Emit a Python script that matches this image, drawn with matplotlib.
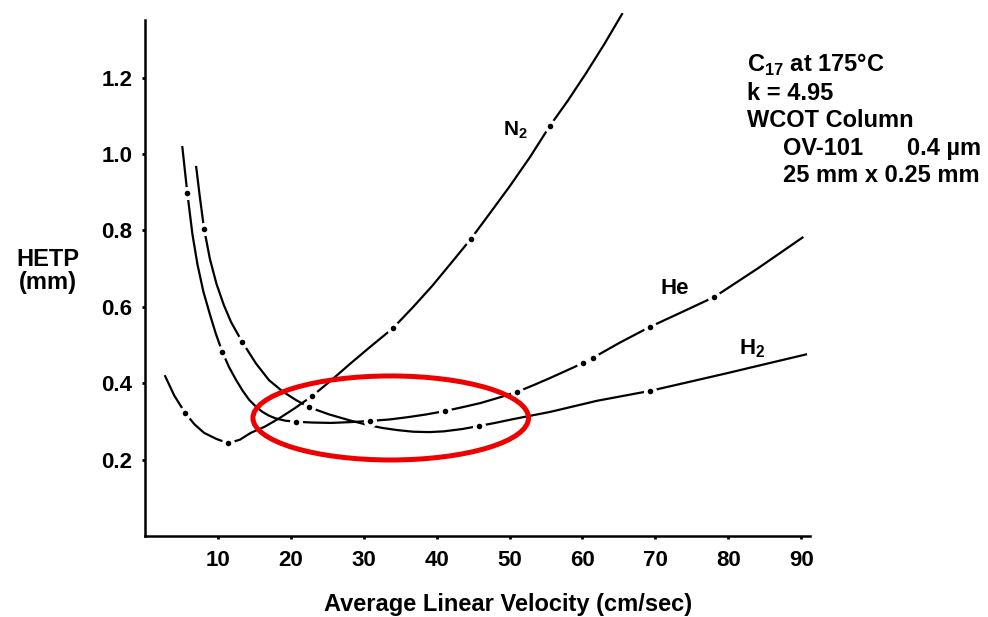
import matplotlib
matplotlib.use("Agg")
import matplotlib.pyplot as plt
from matplotlib.patches import Ellipse

plt.rcParams['font.family'] = 'Liberation Sans'
plt.rcParams['font.weight'] = 'bold'
plt.rcParams['mathtext.fontset'] = 'custom'
plt.rcParams['mathtext.bf'] = 'Liberation Sans:bold'
plt.rcParams['mathtext.rm'] = 'Liberation Sans:bold'

# traced curves (velocity cm/s, HETP mm)
n2_v = [2.7, 4.0, 5.5, 6.8, 8.1, 9.8, 11.4, 13.0, 14.5, 16.4, 18.4, 20.5, 22.9, 25.5, 28.2, 31.0, 34.0,
        36.7, 39.4, 42.0, 44.7, 47.3, 50.0, 52.8, 55.5, 58.0, 60.5, 63.0, 65.5]
n2_h = [0.421, 0.368, 0.322, 0.292, 0.270, 0.254, 0.243, 0.252, 0.270, 0.286, 0.308, 0.334, 0.366, 0.407,
        0.452, 0.497, 0.544, 0.598, 0.655, 0.715, 0.778, 0.845, 0.915, 0.992, 1.073, 1.140, 1.212, 1.288, 1.369]

he_v = [5.1, 5.8, 6.5, 7.2, 8.0, 8.9, 9.7, 10.6, 11.5, 12.5, 13.4, 14.3, 15.2, 16.1, 17.0, 17.9, 19.2,
        20.7, 23.0, 25.5, 28.0, 30.8, 33.5, 36.0, 38.5, 41.1, 43.5, 46.0, 48.5, 51.0, 53.3, 55.6, 57.8,
        60.1, 61.4, 65.0, 69.2, 73.5, 78.1, 84.0, 90.3]
he_h = [1.021, 0.898, 0.790, 0.710, 0.640, 0.580, 0.530, 0.482, 0.443, 0.408, 0.380, 0.356, 0.339, 0.325,
        0.315, 0.308, 0.302, 0.299, 0.297, 0.296, 0.298, 0.301, 0.305, 0.311, 0.318, 0.327, 0.337, 0.348,
        0.362, 0.377, 0.395, 0.414, 0.433, 0.453, 0.466, 0.505, 0.547, 0.585, 0.626, 0.700, 0.783]

h2_v = [7.0, 7.5, 8.1, 8.9, 9.8, 10.8, 11.8, 13.3, 15.2, 17.0, 18.9, 20.7, 22.5, 25.3, 28.2, 30.5,
        32.5, 34.7, 36.8, 39.0, 41.0, 43.5, 45.8, 48.0, 50.5, 55.6, 62.0, 69.3, 75.0, 80.0, 85.5, 90.8]
h2_h = [0.969, 0.890, 0.804, 0.725, 0.660, 0.605, 0.560, 0.509, 0.452, 0.408, 0.378, 0.356, 0.337, 0.318,
        0.302, 0.291, 0.283, 0.277, 0.273, 0.272, 0.274, 0.280, 0.288, 0.296, 0.306, 0.325, 0.354,
        0.380, 0.405, 0.427, 0.452, 0.476]

# measured points (dots on the curves)
n2_pts_v = [5.5, 11.4, 22.9, 34.0, 44.7, 55.5]
n2_pts_h = [0.322, 0.243, 0.366, 0.544, 0.778, 1.073]
he_pts_v = [5.8, 10.6, 20.7, 30.8, 41.1, 51.0, 60.1, 61.4, 69.2, 78.1]
he_pts_h = [0.898, 0.482, 0.299, 0.301, 0.327, 0.377, 0.453, 0.466, 0.547, 0.626]
h2_pts_v = [8.1, 13.3, 22.5, 45.8, 69.3]
h2_pts_h = [0.804, 0.509, 0.337, 0.288, 0.380]

x_ticks = [10, 20, 30, 40, 50, 60, 70, 80, 90]
y_ticks = [0.2, 0.4, 0.6, 0.8, 1.0, 1.2]

fig = plt.figure(figsize=(9.88, 6.17), dpi=100)
ax = fig.add_axes([0.1468, 0.1313, 0.6730, 0.8481])

for v, h in [(n2_v, n2_h), (he_v, he_h), (h2_v, h2_h)]:
    ax.plot(v, h, color='black', lw=1.6, solid_capstyle='butt', solid_joinstyle='round', zorder=2)

# white halo breaks the line around each dot, like the original drawing
for v, h in [(n2_pts_v, n2_pts_h), (he_pts_v, he_pts_h), (h2_pts_v, h2_pts_h)]:
    ax.plot(v, h, 'o', ms=9.5, color='white', mec='none', zorder=3)
    ax.plot(v, h, 'o', ms=4.0, color='black', mec='none', zorder=4)

# curve labels
ax.text(50.8, 1.063, r'N$_\mathbf{2}$', fontsize=15, ha='center', va='center')
ax.text(72.7, 0.649, 'He', fontsize=16, ha='center', va='center')
ax.text(83.3, 0.49, r'H$_\mathbf{2}$', fontsize=16, ha='center', va='center')

# red highlight ring
ring = Ellipse((33.7, 0.309), 37.8, 0.22, fill=False, edgecolor='#ee0000', lw=3.6, zorder=5)
ax.add_patch(ring)

ax.set_xlim(0, 91.2)
ax.set_ylim(0, 1.37)
ax.spines['top'].set_visible(False)
ax.spines['right'].set_visible(False)
ax.spines['left'].set_linewidth(1.8)
ax.spines['bottom'].set_linewidth(1.8)
ax.spines['left'].set_bounds(0, 1.35)

ax.set_xticks(x_ticks)
ax.set_yticks(y_ticks)
ax.set_xticklabels([str(t) for t in x_ticks])
ax.set_yticklabels([f'{t:.1f}' for t in y_ticks])
ax.tick_params(axis='both', direction='out', length=2, width=2, labelsize=16)
ax.tick_params(axis='x', pad=8)
ax.tick_params(axis='y', pad=7)

ax.set_xlabel('Average Linear Velocity (cm/sec)', fontsize=17, fontweight='bold')
ax.xaxis.set_label_coords((508 - 145) / 665, -0.108)

fig.text(48 / 988, 1 - 271 / 617, 'HETP\n(mm)', fontsize=17, ha='center', va='center', linespacing=1.0)

# conditions block
info_x = 747 / 988
indent_x = 783 / 988
fig.text(info_x, 1 - 72 / 617, r'C$_\mathbf{17}$ at 175°C', fontsize=17, va='baseline')
fig.text(info_x, 1 - 100 / 617, 'k = 4.95', fontsize=17, va='baseline')
fig.text(info_x, 1 - 127 / 617, 'WCOT Column', fontsize=17, va='baseline')
fig.text(indent_x, 1 - 155 / 617, 'OV-101', fontsize=17, va='baseline')
fig.text(907 / 988, 1 - 155 / 617, '0.4 µm', fontsize=17, va='baseline')
fig.text(indent_x, 1 - 182 / 617, '25 mm x 0.25 mm', fontsize=17, va='baseline')

fig.savefig('out.png', dpi=100, facecolor='white')
